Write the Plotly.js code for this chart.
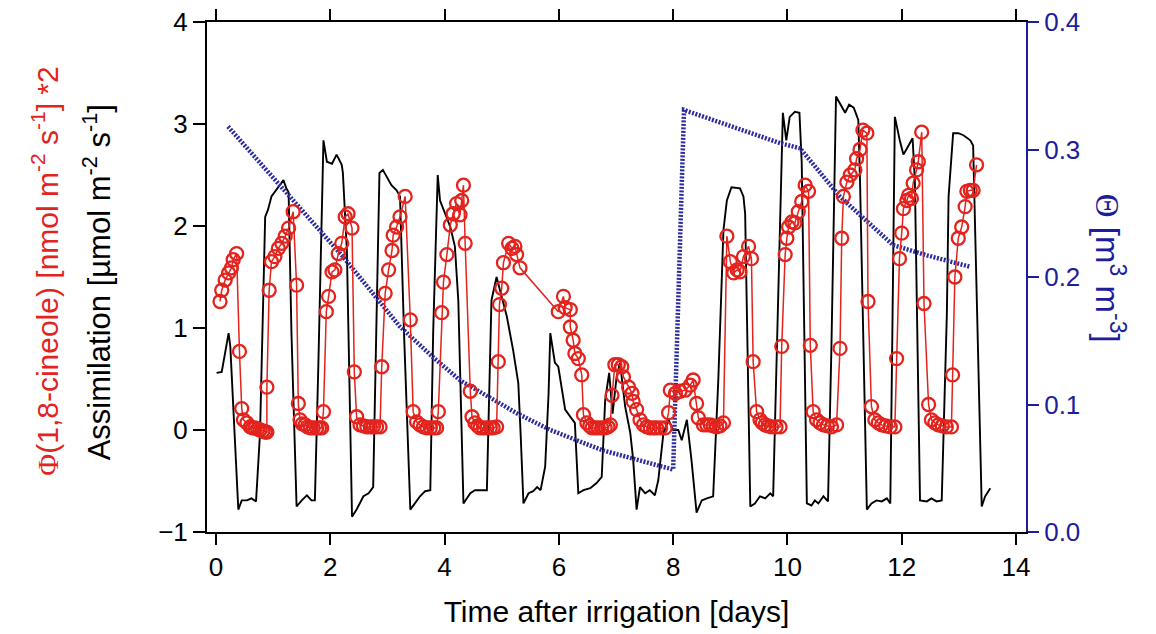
<!DOCTYPE html>
<html>
<head>
<meta charset="utf-8">
<script src="https://cdn.plot.ly/plotly-3.0.1.min.js"></script>
<style>html,body{margin:0;padding:0;background:#fff;}#chart{width:1156px;height:634px;}</style>
</head>
<body>
<div id="chart"></div>
<script>
// Assimilation (black line, left axis)
const assimDays = [0.01,0.10,0.22,0.25,0.39,0.45,0.54,0.62,0.70,0.77,
0.86,0.91,0.97,1.12,1.18,1.23,1.27,1.32,1.41,1.50,
1.59,1.67,1.73,1.79,1.88,1.94,2.03,2.11,2.20,2.22,
2.29,2.38,2.46,2.58,2.67,2.75,2.81,2.86,2.92,2.99,
3.07,3.16,3.22,3.29,3.40,3.48,3.57,3.66,3.75,3.80,
3.88,3.92,4.01,4.10,4.18,4.24,4.33,4.45,4.53,4.74,
4.82,4.91,4.97,5.09,5.20,5.29,5.33,5.38,5.47,5.55,
5.62,5.68,5.76,5.82,5.85,5.93,5.99,6.11,6.20,6.28,
6.34,6.43,6.55,6.66,6.75,6.81,6.88,6.94,7.01,7.07,
7.16,7.25,7.30,7.36,7.42,7.51,7.59,7.68,7.74,7.83,
7.92,8.00,8.09,8.15,8.24,8.32,8.41,8.50,8.59,8.70,
8.79,8.88,8.94,9.02,9.17,9.23,9.26,9.35,9.43,9.52,
9.61,9.70,9.75,9.84,9.92,9.98,10.04,10.13,10.21,10.25,
10.34,10.42,10.48,10.54,10.63,10.71,10.77,10.85,10.92,11.01,
11.08,11.16,11.24,11.27,11.39,11.47,11.56,11.65,11.74,11.80,
11.84,11.88,11.97,12.03,12.12,12.19,12.23,12.32,12.44,12.52,
12.61,12.70,12.79,12.82,12.90,12.99,13.08,13.20,13.25,13.40,
13.46,13.55];
const assimValues = [0.56,0.57,0.95,0.82,-0.78,-0.69,-0.69,-0.67,-0.70,-0.03,
2.09,2.16,2.29,2.40,2.45,2.37,2.33,0.95,-0.75,-0.69,
-0.64,-0.69,-0.69,0.62,2.84,2.63,2.61,2.70,2.60,2.52,
1.76,-0.85,-0.78,-0.65,-0.62,-0.56,1.27,2.52,2.55,2.48,
2.40,2.35,2.29,0.95,-0.78,-0.72,-0.65,-0.60,-0.59,0.95,
2.50,2.25,2.12,1.99,1.80,1.27,-0.72,-0.62,-0.59,-0.59,
1.27,1.50,1.37,1.11,0.78,0.46,-0.03,-0.72,-0.62,-0.60,
-0.56,-0.59,-0.36,0.36,0.95,0.66,0.62,0.20,0.13,0.07,
-0.62,-0.59,-0.57,-0.52,-0.46,0.29,0.56,0.16,0.52,0.66,
0.23,-0.03,-0.29,-0.78,-0.56,-0.62,-0.59,-0.64,-0.49,-0.03,
0.10,0.00,0.00,-0.10,0.10,-0.29,-0.81,-0.69,-0.67,-0.65,
0.49,1.96,2.25,2.38,2.37,2.29,2.12,-0.75,-0.72,-0.65,
-0.67,-0.62,-0.65,1.47,3.11,2.84,3.07,3.12,3.11,2.62,
-0.72,-0.74,-0.69,-0.72,-0.65,-0.70,0.82,3.27,3.20,3.11,
3.19,3.16,3.04,2.45,-0.78,-0.72,-0.69,-0.70,-0.67,-0.72,
1.14,3.07,2.83,2.70,2.79,2.86,2.45,-0.69,-0.70,-0.67,
-0.70,-0.69,1.14,2.29,2.91,2.91,2.89,2.84,2.79,-0.75,
-0.65,-0.57];

// 1,8-cineole flux *2 (red circles, left axis)
const cineoleDays = [0.07,0.10,0.16,0.22,0.27,0.30,0.36,0.41,0.45,0.48,0.54,0.60,0.64,0.68,0.73,0.77,0.82,0.86,0.89,
0.89,0.93,0.97,1.03,1.09,1.15,1.21,1.27,1.35,1.41,1.44,1.47,1.51,1.56,1.60,1.65,1.70,1.76,1.81,1.85,
1.88,1.93,1.97,2.03,2.08,2.14,2.20,2.26,2.31,2.38,2.42,2.46,2.52,2.58,2.64,2.70,2.75,2.81,2.87,
2.90,2.96,3.02,3.08,3.10,3.16,3.22,3.31,3.40,3.45,3.51,3.57,3.63,3.69,3.75,3.81,3.86,
3.89,3.95,3.98,4.04,4.10,4.15,4.21,4.27,4.30,4.33,4.36,4.45,4.48,4.53,4.58,4.62,4.68,4.74,4.80,4.85,4.91,
4.94,4.96,5.00,5.03,5.12,5.18,5.23,5.26,5.32,
5.99,6.08,6.11,6.20,6.20,6.25,6.28,6.34,6.40,6.43,6.49,6.54,6.58,6.64,6.69,6.75,6.81,6.86,6.90,
6.93,6.98,7.04,7.10,7.13,7.22,7.28,7.30,7.36,7.42,7.48,7.54,7.60,7.66,7.71,7.78,7.86,
7.92,7.95,8.04,8.12,8.21,8.30,8.35,8.41,8.44,8.53,8.59,8.65,8.70,8.76,8.82,8.88,
8.94,9.00,9.06,9.12,9.17,9.23,9.32,9.37,9.40,9.46,9.52,9.56,9.61,9.66,9.72,9.80,9.87,
9.90,9.96,9.99,10.02,10.08,10.13,10.19,10.25,10.31,10.37,10.40,10.45,10.51,10.57,10.63,10.70,10.77,10.86,
10.92,10.95,10.98,11.04,11.10,11.18,11.21,11.27,11.32,11.39,11.41,11.47,11.53,11.59,11.65,11.72,11.80,11.88,
11.91,11.96,12.00,12.03,12.09,12.12,12.17,12.20,12.26,12.29,12.35,12.39,12.47,12.52,12.58,12.64,12.71,12.78,12.87,
12.89,12.93,12.99,13.05,13.11,13.14,13.20,13.25,13.31];
const cineoleValues = [1.26,1.37,1.47,1.54,1.59,1.67,1.73,0.77,0.21,0.10,0.07,0.03,0.02,0.02,0.01,0.00,-0.01,-0.02,-0.02,
0.42,1.37,1.65,1.70,1.78,1.83,1.90,1.98,2.14,1.42,0.26,0.10,0.06,0.05,0.03,0.02,0.02,0.02,0.02,0.02,
0.18,1.16,1.31,1.55,1.57,1.73,1.83,2.09,2.12,1.98,0.57,0.13,0.05,0.04,0.03,0.03,0.03,0.03,0.03,
0.62,1.34,1.57,1.76,1.91,1.99,2.09,2.29,1.08,0.18,0.08,0.05,0.03,0.02,0.02,0.02,0.02,
0.18,1.15,1.45,1.72,2.01,2.12,2.22,2.11,2.25,2.40,1.83,0.38,0.13,0.07,0.04,0.02,0.02,0.02,0.02,0.02,0.03,
0.67,1.23,1.39,1.64,1.83,1.78,1.80,1.72,1.59,
1.16,1.31,1.20,1.18,1.01,0.88,0.75,0.70,0.54,0.15,0.07,0.04,0.02,0.02,0.02,0.02,0.02,0.03,0.05,
0.34,0.64,0.64,0.62,0.52,0.42,0.36,0.28,0.20,0.10,0.05,0.03,0.02,0.02,0.02,0.02,0.02,
0.17,0.39,0.36,0.38,0.39,0.44,0.49,0.26,0.12,0.05,0.05,0.05,0.04,0.03,0.04,0.07,
1.90,1.65,1.54,1.57,1.55,1.70,1.80,1.68,0.67,0.18,0.10,0.07,0.05,0.04,0.03,0.03,0.03,
0.82,1.72,1.88,1.99,2.04,2.03,2.14,2.24,2.40,2.34,0.83,0.18,0.10,0.07,0.05,0.04,0.03,0.05,
0.80,1.88,2.29,2.43,2.50,2.55,2.66,2.75,2.94,2.91,1.26,0.23,0.10,0.07,0.05,0.04,0.03,0.03,
0.70,1.68,1.93,2.17,2.25,2.30,2.27,2.42,2.55,2.63,2.92,1.24,0.25,0.10,0.07,0.05,0.04,0.03,0.03,
0.54,1.50,1.88,1.99,2.19,2.34,2.35,2.35,2.60];

// Soil water content Θ (blue dotted, right axis)
const thetaDays = [0.21,1.12,2.22,3.22,3.80,4.27,5.27,5.85,6.77,8.00,8.19,9.87,10.22,10.92,11.85,12.44,13.20];
const thetaValues = [0.318,0.272,0.216,0.161,0.137,0.119,0.093,0.080,0.064,0.049,0.331,0.305,0.301,0.263,0.225,0.217,0.208];

const xTickVals = [0,2,4,6,8,10,12,14];
const yTickVals = [-1,0,1,2,3,4];
const y2TickVals = [0.0,0.1,0.2,0.3,0.4];

const RED = '#e3231d';
const BLUE = '#1d1d9b';
const FONT = "'Liberation Sans', Arial, sans-serif";

const traces = [
  {x: assimDays, y: assimValues, type:'scatter', mode:'lines', yaxis:'y',
   line:{color:'#000', width:1.9}, hoverinfo:'skip'},
  {x: thetaDays, y: thetaValues, type:'scatter', mode:'lines', yaxis:'y2',
   line:{color:'#2c2c9e', width:4.5, dash:'2px,1.5px'}, hoverinfo:'skip'},
  {x: cineoleDays, y: cineoleValues, type:'scatter', mode:'lines+markers', yaxis:'y3',
   line:{color:RED, width:1.5},
   marker:{symbol:'circle-open', size:13, color:RED, line:{color:RED, width:2.3}}, hoverinfo:'skip'}
];

const layout = {
  width:1156, height:634,
  margin:{l:207, r:130, t:22, b:102, pad:0},
  paper_bgcolor:'#fff', plot_bgcolor:'#fff',
  showlegend:false,
  font:{family:FONT, size:26, color:'#000'},
  xaxis:{range:[-0.158,14.175], tickvals:xTickVals, ticks:'outside', ticklen:11, tickwidth:2, tickcolor:'#000',
    showline:true, linewidth:2, linecolor:'#000', mirror:'ticks', showgrid:false, zeroline:false,
    tickfont:{size:26},
    title:{text:'Time after irrigation [days]', font:{size:30}, standoff:20}},
  yaxis:{range:[-1,4], tickvals:yTickVals, ticks:'outside', ticklen:12, tickwidth:2, tickcolor:'#000',
    showline:true, linewidth:2, linecolor:'#000', showgrid:false, zeroline:false, tickfont:{size:26}},
  yaxis2:{overlaying:'y', side:'right', range:[0,0.4], tickvals:y2TickVals, tickformat:'.1f',
    ticks:'outside', ticklen:11, tickwidth:2, tickcolor:BLUE, showline:true, linewidth:2, linecolor:BLUE,
    showgrid:false, zeroline:false, tickfont:{size:26, color:BLUE}},
  yaxis3:{overlaying:'y', range:[-1,4], visible:false, showticklabels:false, showgrid:false, zeroline:false},
  annotations:[
    {xref:'paper', yref:'paper', x:-0.198, y:0.512, xanchor:'center', yanchor:'middle', textangle:-90, showarrow:false,
     text:'<span style="font-family:\'Liberation Serif\'">Φ</span>(1,8-cineole) [nmol m<sup>-2</sup> s<sup>-1</sup>] *2',
     font:{size:30, color:RED}},
    {xref:'paper', yref:'paper', x:-0.134, y:0.490, xanchor:'center', yanchor:'middle', textangle:-90, showarrow:false,
     text:'Assimilation [µmol m<sup>-2</sup> s<sup>-1</sup>]', font:{size:31, color:'#000'}},
    {xref:'paper', yref:'paper', x:1.1026, y:0.518, xanchor:'center', yanchor:'middle', textangle:90, showarrow:false,
     text:'<span style="font-family:\'Liberation Serif\'">Θ</span> [m<sup>3</sup> m<sup>-3</sup>]', font:{size:33, color:BLUE}}
  ]
};

Plotly.newPlot('chart', traces, layout, {staticPlot:true, displayModeBar:false});
</script>
</body>
</html>
